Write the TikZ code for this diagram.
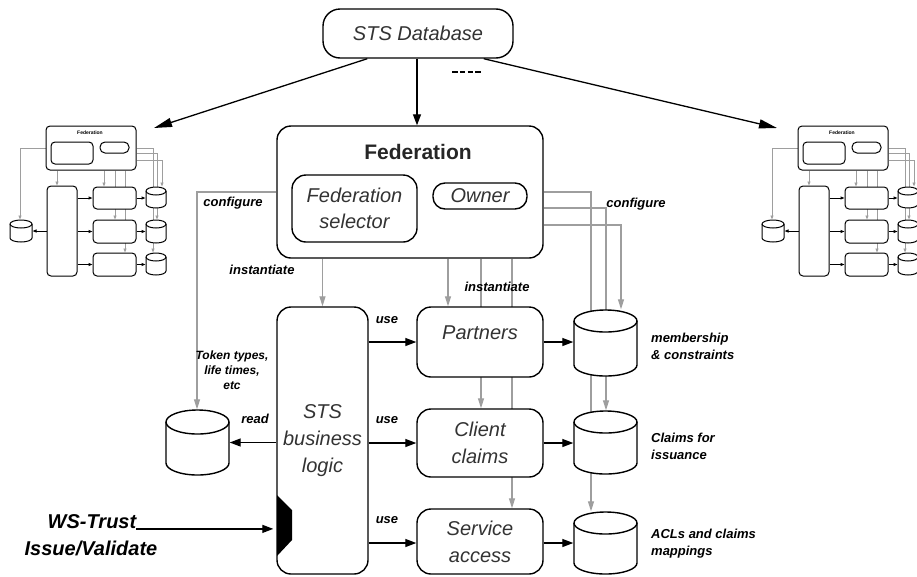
\documentclass[tikz,border=0pt]{standalone}
\usepackage{fontspec}
\setmainfont{Liberation Sans}
\usetikzlibrary{arrows.meta,backgrounds,calc}
\pgfdeclarelayer{bottom}
\pgfdeclarelayer{background}
\pgfsetlayers{bottom,background,main}

\newcommand{\dbcyl}[6]{%
 \node[inner sep=0pt, minimum width={(#4-#2)*1pt}, minimum height={(#5-#3)*1pt}] (#1) at ({(#2+#4)/2},{(#3+#5)/2}) {};
 \filldraw[fill=white] (#2,{#3+#6}) -- (#2,{#5-#6}) arc[start angle=180,end angle=0,x radius={(#4-#2)/2},y radius=#6] -- (#4,{#3+#6}) arc[start angle=0,end angle=-180,x radius={(#4-#2)/2},y radius=#6] -- cycle;
 \draw (#2,{#3+#6}) arc[start angle=180,end angle=0,x radius={(#4-#2)/2},y radius=#6];
}

\tikzset{
 rbox/.style={draw, line width=1.4pt, rounded corners=14pt, fill=white, inner sep=0pt, text=black!80, font=\fontsize{20}{27}\selectfont\itshape, align=center},
 lbl/.style={font=\fontsize{13}{17}\selectfont\bfseries\itshape, inner sep=0pt, text=black},
 blk/.style={line width=1.3pt, -{Triangle[length=11pt,width=8pt]}},
 bigblk/.style={line width=1.3pt, -{Triangle[length=18pt,width=9pt]}},
 gry/.style={draw=black!38, line width=1.2pt, -{Triangle[length=10pt,width=6pt]}},
 mbox/.style={draw, line width=1pt, rounded corners=4pt, fill=white, inner sep=0pt},
 mblk/.style={line width=1pt, -{Triangle[length=4pt,width=3pt]}},
 mgry/.style={draw=black!38, line width=0.9pt, -{Triangle[length=4pt,width=3pt]}},
}

\newcommand{\minisys}{%
 \node[mbox, minimum width=90pt, minimum height=44pt] (mfed) at (91,148) {};
 \node[font=\fontsize{5}{6}\selectfont\bfseries, inner sep=0pt] (mtitle) at (90,133) {Federation};
 \node[mbox, minimum width=42pt, minimum height=22pt] (msel) at (72,153) {};
 \node[mbox, rounded corners=5pt, minimum width=29pt, minimum height=11pt] (mown) at (114.5,147.5) {};
 \node[mbox, minimum width=30pt, minimum height=90pt] (msts) at (62,231) {};
 \node[mbox, minimum width=43pt, minimum height=22pt] (mp) at (114.5,198) {};
 \node[mbox, minimum width=43pt, minimum height=23pt] (mc) at (114.5,231.5) {};
 \node[mbox, minimum width=43pt, minimum height=23pt] (ms) at (114.5,264.5) {};
 \begin{scope}[line width=1pt]
 \dbcyl{md1}{146}{187}{166}{208}{4}
 \dbcyl{md2}{146}{220}{166}{243}{4}
 \dbcyl{md3}{146}{253}{166}{275}{4}
 \dbcyl{mtok}{10}{220}{32}{242}{4}
 \end{scope}
 \begin{pgfonlayer}{background}
  \draw[mgry] (mfed.west |- 0,148) -| (20,0 |- mtok.north);
  \draw[mgry] (57,0 |- mfed.south) -- (57,0 |- msts.north);
  \draw[mgry] (104,0 |- mfed.south) -- (104,0 |- mp.north);
  \draw[mgry] (115,0 |- mfed.south) -- (115,0 |- mc.north);
  \draw[mgry] (125,0 |- mfed.south) -- (125,0 |- ms.north);
  \draw[mgry] (mfed.east |- 0,148) -| (153,0 |- md3.north);
  \draw[mgry] (mfed.east |- 0,153) -| (157,0 |- md2.north);
  \draw[mgry] (mfed.east |- 0,160) -| (162,0 |- md1.north);
 \end{pgfonlayer}
 \draw[mblk] (msts.east |- mp) -- (mp.west);
 \draw[mblk] (msts.east |- mc) -- (mc.west);
 \draw[mblk] (msts.east |- ms) -- (ms.west);
 \draw[mblk] (mp.east) -- (mp.east -| md1.west);
 \draw[mblk] (mc.east) -- (mc.east -| md2.west);
 \draw[mblk] (ms.east) -- (ms.east -| md3.west);
 \draw[mblk] (msts.west |- mtok) -- (mtok.east);
}

\begin{document}
\begin{tikzpicture}[x=1pt,y=-1pt]
\useasboundingbox (0,0) rectangle (917,576);
\begin{pgfonlayer}{bottom}
\fill[white] (0,0) rectangle (917,576);
\end{pgfonlayer}

% mini systems
\begin{scope}[name prefix=L-]
 \minisys
\end{scope}
\begin{scope}[xshift=752pt, name prefix=R-]
 \minisys
\end{scope}

% main nodes
\node[rbox, rounded corners=17pt, minimum width=190pt, minimum height=49pt] (stsdb) at (418,33.5) {STS Database};
\node[rbox, minimum width=266pt, minimum height=132pt] (fed) at (410,192) {};
\node[font=\fontsize{21}{24}\selectfont\bfseries, text=black!85, inner sep=0pt] (fedtitle) at (418,152) {Federation};
\node[rbox, minimum width=125pt, minimum height=67pt, font=\fontsize{20}{26}\selectfont\itshape] (fsel) at (354.5,208.5) {Federation\\selector};
\node[rbox, rounded corners=12pt, minimum width=94pt, minimum height=26pt] (owner) at (480,196) {Owner};
\node[rbox, minimum width=91pt, minimum height=267pt] (sts) at (322.5,440.5) {STS\\business\\logic};
\node[rbox, minimum width=126pt, minimum height=70pt, text depth=18pt] (partners) at (480,342) {Partners};
\node[rbox, minimum width=126pt, minimum height=68pt] (cclaims) at (480,443) {Client\\claims};
\node[rbox, minimum width=126pt, minimum height=65pt] (saccess) at (480,541.5) {Service\\access};

\begin{scope}[line width=1.4pt]
\dbcyl{dbm}{574}{310}{637}{376}{11}
\dbcyl{dbc}{574}{411}{637}{474}{11}
\dbcyl{dba}{574}{512}{637}{574}{11}
\dbcyl{dbt}{166}{410}{229}{475}{12}
\end{scope}

% WS-Trust interface
\fill (277,495) -- (292,510) -- (292,540) -- (277,556) -- cycle;
\node[font=\fontsize{20}{26}\selectfont\bfseries\itshape, inner sep=0pt] (ws1) at (92,522) {WS-Trust};
\node[font=\fontsize{20}{26}\selectfont\bfseries\itshape, inner sep=0pt] (ws2) at (91,548) {Issue/Validate};

% free ends
\coordinate (Ltip) at (154,128);
\coordinate (Rtip) at (777,128);

% gray connectors (behind)
\begin{pgfonlayer}{background}
 \draw[gry] (fed.west |- 0,192) -| (197,0 |- dbt.north);
 \draw[gry] (sts.north |- fed.south) -- (sts.north);
 \draw[gry] (448,0 |- fed.south) -- (448,0 |- partners.north);
 \draw[gry] (481,0 |- fed.south) -- (481,0 |- cclaims.north);
 \draw[gry] (512,0 |- fed.south) -- (512,0 |- saccess.north);
 \draw[gry] (fed.east |- 0,192) -| (591,0 |- dba.north);
 \draw[gry] (fed.east |- 0,208) -| (606,0 |- dbc.north);
 \draw[gry] (fed.east |- 0,225) -| (621,0 |- dbm.north);
\end{pgfonlayer}

% black connectors
\draw[blk] (stsdb.south -| 417,0) -- (417,0 |- fed.north);
\draw[bigblk] ($(stsdb.south west)+(45,0)$) -- (Ltip);
\draw[bigblk] ($(stsdb.south east)+(-30,0)$) -- (Rtip);
\draw[line width=2.2pt, dash pattern=on 5.5pt off 2.3pt] (452,72) -- (481,72);
\draw[blk] (sts.east |- partners) -- (partners.west);
\draw[blk] (sts.east |- cclaims) -- (cclaims.west);
\draw[blk] (sts.east |- 0,543) -- (saccess.west |- 0,543);
\draw[blk] (partners.east) -- (partners.east -| dbm.west);
\draw[blk] (cclaims.east) -- (cclaims.east -| dbc.west);
\draw[blk] (saccess.east |- 0,543) -- (dba.west |- 0,543);
\draw[blk] (sts.west |- dbt) -- (dbt.east);
\draw[blk, shorten >=3pt] (ws1.base east) -- (sts.west |- ws1.base);

% labels
\node[lbl] (cfg1) at (233,203) {configure};
\node[lbl] (cfg2) at (636,204) {configure};
\node[lbl] (inst1) at (262,270) {instantiate};
\node[lbl] (inst2) at (497,287) {instantiate};
\node[lbl, font=\fontsize{12}{15}\selectfont\bfseries\itshape, align=center] (tok) at (232,370) {Token types,\\life times,\\etc};
\node[lbl] (read) at (255,419) {read};
\node[lbl] (use1) at (387,320) {use};
\node[lbl] (use2) at (387,420) {use};
\node[lbl] (use3) at (387,520) {use};
\node[lbl, align=left, anchor=west] (lm) at (651,346) {membership\\\& constraints};
\node[lbl, align=left, anchor=west] (lc) at (651,446) {Claims for\\issuance};
\node[lbl, align=left, anchor=west] (la) at (651,544) {ACLs and claims\\mappings};
\end{tikzpicture}
\end{document}
